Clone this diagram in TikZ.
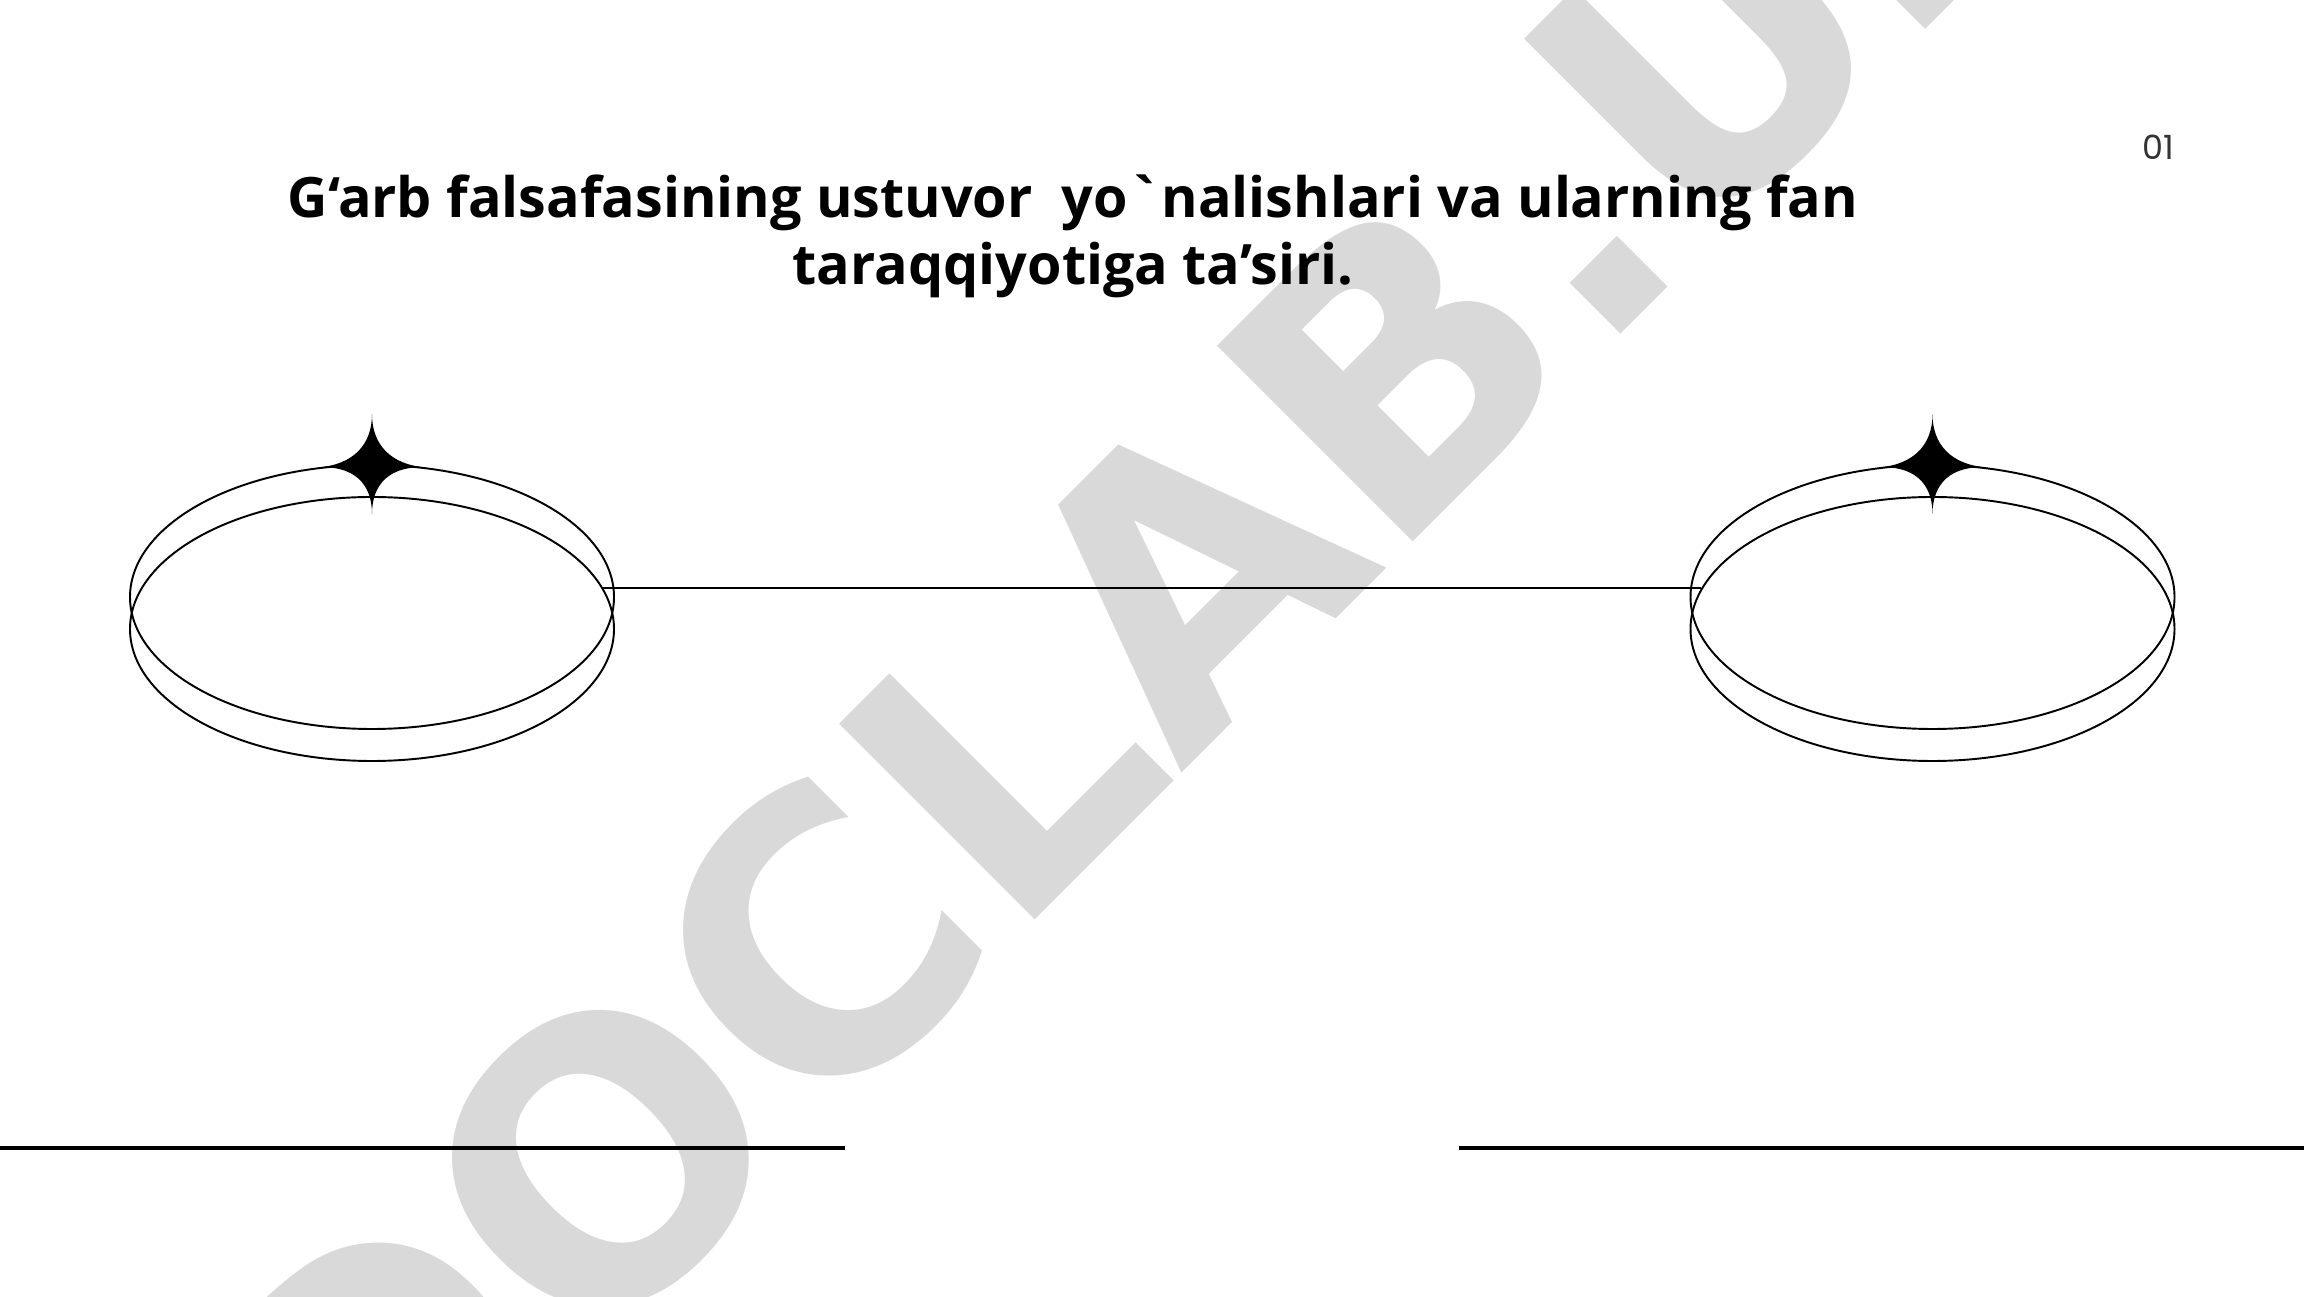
\documentclass[tikz,border=0pt]{standalone}
\usepackage{fontspec}
\newfontfamily\titlefont{Open Sans}
\newfontfamily\markfont{DejaVu Sans}
\newfontfamily\pagefont{Poppins}
\usetikzlibrary{shapes.geometric}
\definecolor{markgray}{HTML}{D9D9D9}
\definecolor{numgray}{HTML}{333333}

\begin{document}
\begin{tikzpicture}[
    ring/.style={draw, ellipse, line width=0.55pt, minimum width=4.84cm, minimum height=2.64cm, inner sep=0pt},
    sparkle/.pic={\fill (0,0.5) .. controls (0,0.19) and (-0.19,-0.01) .. (-0.55,-0.035) .. controls (-0.19,-0.01) and (0,-0.19) .. (0,-0.5) .. controls (0,-0.19) and (0.19,-0.01) .. (0.55,-0.035) .. controls (0.19,-0.01) and (0,0.19) .. cycle;}
]
    \useasboundingbox (0,0) rectangle (23.04,12.96);
    \clip (0,0) rectangle (23.04,12.96);
    \node[rotate=45, anchor=base, text=markgray, font=\markfont\bfseries\fontsize{108}{108}\selectfont] (mark) at (12.35,5.76) {DOCLAB.UZ};

    \node[font=\titlefont\bfseries\fontsize{15.85}{19.3}\selectfont, align=center, anchor=base] (title) at (10.73,10.11) {G‘arb falsafasining ustuvor\ \ yo`nalishlari va ularning fan\\taraqqiyotiga ta’siri.};
    \node[text=numgray, font=\pagefont\fontsize{9.5}{9.5}\selectfont] (pagenum) at (21.58,11.49) {01};

    \foreach \n/\x in {l/3.72, r/19.325} {
        \node[ring] (\n a) at (\x,6.99) {};
        \node[ring] (\n b) at (\x,6.67) {};
        \pic at (\n a.north) {sparkle};
    }
    \draw[line width=0.5pt] (lb.10) -- (rb.170);

    \draw[line width=1pt] (0,1.48) -- (8.45,1.48);
    \draw[line width=1pt] (14.59,1.48) -- (23.04,1.48);
\end{tikzpicture}
\end{document}
